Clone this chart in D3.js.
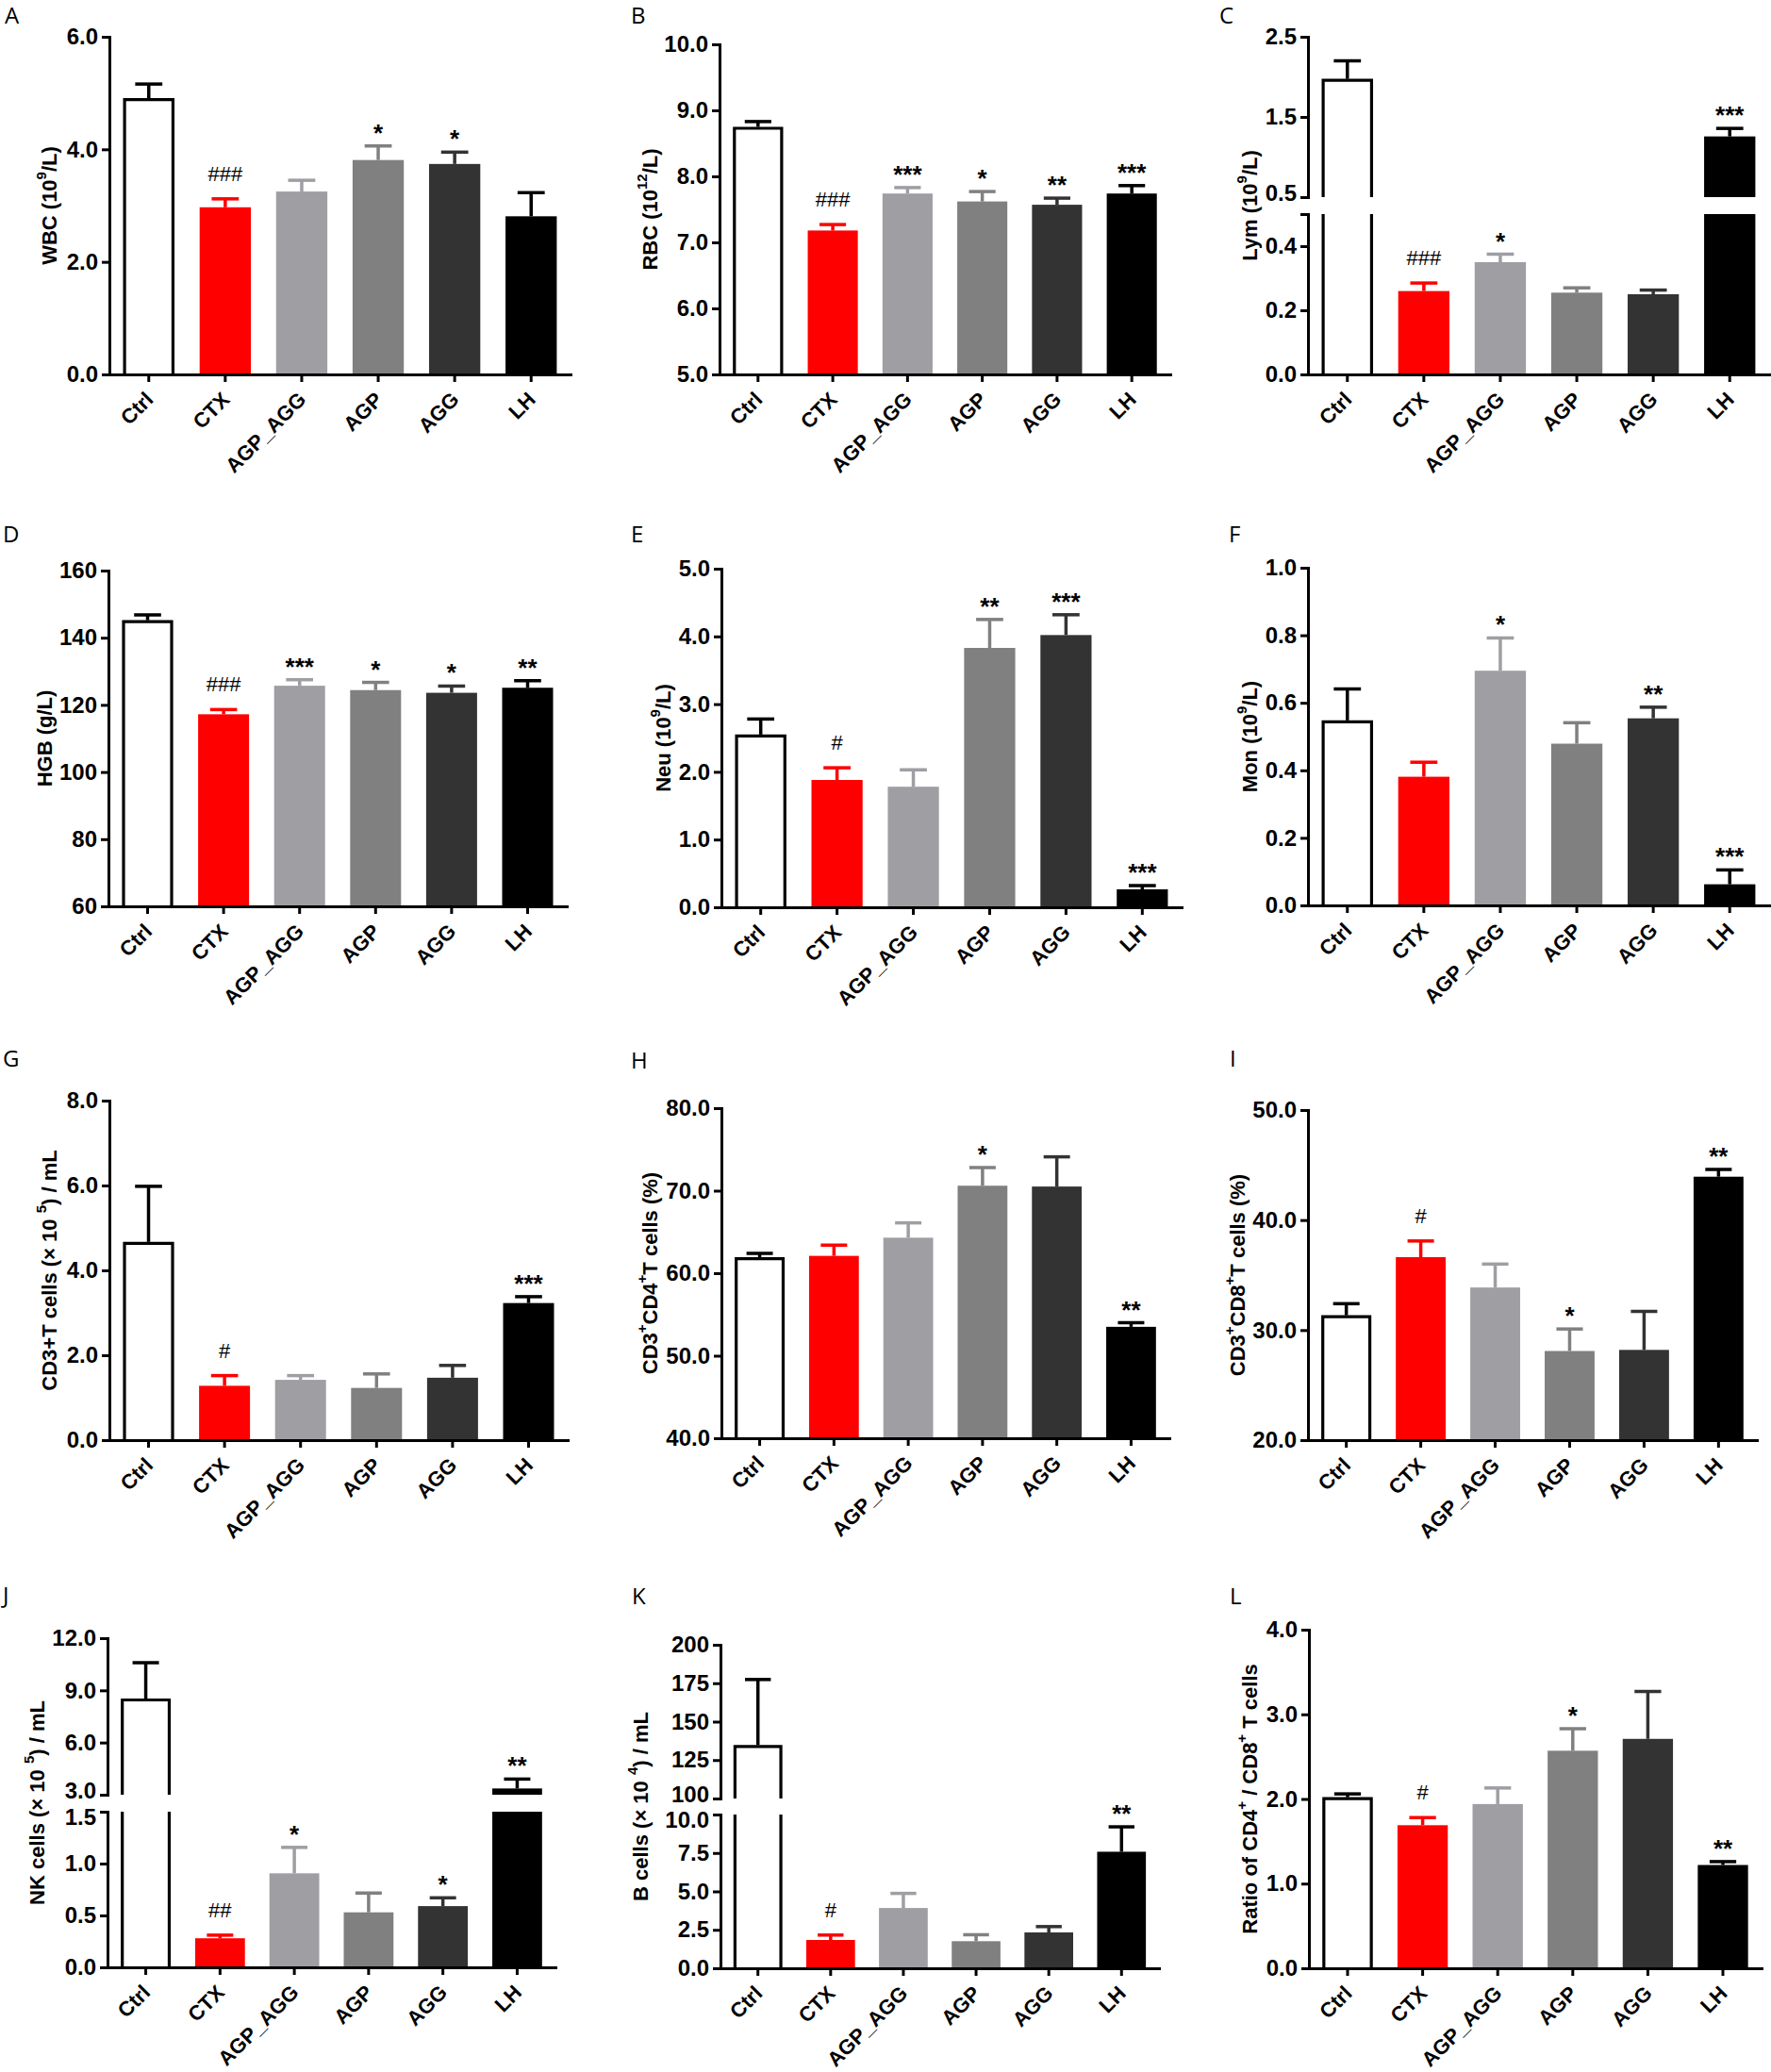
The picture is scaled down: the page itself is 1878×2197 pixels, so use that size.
<!DOCTYPE html>
<html><head><meta charset="utf-8">
<script src="https://cdn.jsdelivr.net/npm/d3@7/dist/d3.min.js"></script>
<style>body{margin:0;background:#fff}svg{display:block}</style>
</head><body>
<svg id="fig" width="1878" height="2197"></svg>
<script>
// ---------------- DATA ----------------
const categories = ["Ctrl", "CTX", "AGP_AGG", "AGP", "AGG", "LH"];
const barColors = ["#ffffff", "#ff0000", "#9e9ea3", "#808080", "#333333", "#000000"];

// A  WBC
const wbcMean = [4.91, 2.97, 3.25, 3.81, 3.74, 2.81];
const wbcSem  = [0.25, 0.15, 0.20, 0.25, 0.21, 0.42];
const wbcSig  = ["", "###", "", "*", "*", ""];
const wbcTicks = [0, 2, 4, 6];
// B  RBC
const rbcMean = [8.75, 7.18, 7.74, 7.62, 7.57, 7.74];
const rbcSem  = [0.08, 0.09, 0.09, 0.15, 0.10, 0.12];
const rbcSig  = ["", "###", "***", "*", "**", "***"];
const rbcTicks = [5, 6, 7, 8, 9, 10];
// C  Lym (broken axis)
const lymMean = [1.975, 0.26, 0.35, 0.255, 0.25, 1.257];
const lymSem  = [0.225, 0.025, 0.025, 0.015, 0.013, 0.10];
const lymSig  = ["", "###", "*", "", "", "***"];
const lymTicksLow = [0, 0.2, 0.4];
const lymTicksHigh = [0.5, 1.5, 2.5];
// D  HGB
const hgbMean = [145.2, 117.2, 125.7, 124.4, 123.6, 125.1];
const hgbSem  = [1.6, 1.4, 1.8, 2.3, 2.0, 2.1];
const hgbSig  = ["", "###", "***", "*", "*", "**"];
const hgbTicks = [60, 80, 100, 120, 140, 160];
// E  Neu
const neuMean = [2.55, 1.88, 1.78, 3.83, 4.02, 0.265];
const neuSem  = [0.23, 0.18, 0.25, 0.42, 0.30, 0.055];
const neuSig  = ["", "#", "", "**", "***", "***"];
const neuTicks = [0, 1, 2, 3, 4, 5];
// F  Mon
const monMean = [0.548, 0.381, 0.695, 0.479, 0.554, 0.0625];
const monSem  = [0.093, 0.043, 0.097, 0.062, 0.033, 0.0425];
const monSig  = ["", "", "*", "", "**", "***"];
const monTicks = [0, 0.2, 0.4, 0.6, 0.8, 1.0];
// G  CD3+ T cells
const cd3Mean = [4.67, 1.28, 1.42, 1.23, 1.47, 3.23];
const cd3Sem  = [1.31, 0.24, 0.10, 0.33, 0.29, 0.15];
const cd3Sig  = ["", "#", "", "", "", "***"];
const cd3Ticks = [0, 2, 4, 6, 8];
// H  CD3+CD4+ %
const cd4Mean = [61.94, 62.1, 64.3, 70.6, 70.5, 53.5];
const cd4Sem  = [0.46, 1.3, 1.8, 2.2, 3.6, 0.5];
const cd4Sig  = ["", "", "", "*", "", "**"];
const cd4Ticks = [40, 50, 60, 70, 80];
// I  CD3+CD8+ %
const cd8Mean = [31.35, 36.63, 33.87, 28.1, 28.2, 43.94];
const cd8Sem  = [1.05, 1.47, 2.13, 2.0, 3.5, 0.66];
const cd8Sig  = ["", "#", "", "*", "", "**"];
const cd8Ticks = [20, 30, 40, 50];
// J  NK cells (broken axis)
const nkMean = [8.53, 0.28, 0.906, 0.53, 0.59, 3.36];
const nkSem  = [2.06, 0.03, 0.25, 0.186, 0.08, 0.54];
const nkSig  = ["", "##", "*", "", "*", "**"];
const nkTicksLow = [0, 0.5, 1.0, 1.5];
const nkTicksHigh = [3, 6, 9, 12];
// K  B cells (broken axis)
const bMean = [134.8, 1.84, 3.92, 1.76, 2.33, 7.58];
const bSem  = [42.6, 0.32, 0.95, 0.42, 0.38, 1.62];
const bSig  = ["", "#", "", "", "", "**"];
const bTicksLow = [0, 2.5, 5.0, 7.5, 10.0];
const bTicksHigh = [100, 125, 150, 175, 200];
// L  CD4/CD8 ratio
const ratioMean = [2.02, 1.69, 1.94, 2.57, 2.71, 1.22];
const ratioSem  = [0.04, 0.09, 0.19, 0.26, 0.56, 0.04];
const ratioSig  = ["", "#", "", "*", "", "**"];
const ratioTicks = [0, 1, 2, 3, 4];

// ---------------- PANEL DEFINITIONS ----------------
const panels = [
  {id:"A", mean:wbcMean, sem:wbcSem, sig:wbcSig, title:"WBC (10^{9}/L)", domain:[0,6], ticks:wbcTicks, fmt:".1f"},
  {id:"B", mean:rbcMean, sem:rbcSem, sig:rbcSig, title:"RBC (10^{12}/L)", domain:[5,10], ticks:rbcTicks, fmt:".1f"},
  {id:"C", mean:lymMean, sem:lymSem, sig:lymSig, title:"Lym (10^{9}/L)", domainLow:[0,0.5], domainHigh:[0.5,2.5], ticksLow:lymTicksLow, ticksHigh:lymTicksHigh, fmtLow:".1f", fmtHigh:".1f"},
  {id:"D", mean:hgbMean, sem:hgbSem, sig:hgbSig, title:"HGB (g/L)", domain:[60,160], ticks:hgbTicks, fmt:"d"},
  {id:"E", mean:neuMean, sem:neuSem, sig:neuSig, title:"Neu (10^{9}/L)", domain:[0,5], ticks:neuTicks, fmt:".1f"},
  {id:"F", mean:monMean, sem:monSem, sig:monSig, title:"Mon (10^{9}/L)", domain:[0,1], ticks:monTicks, fmt:".1f"},
  {id:"G", mean:cd3Mean, sem:cd3Sem, sig:cd3Sig, title:"CD3+T cells (× 10 ^{5}) / mL", domain:[0,8], ticks:cd3Ticks, fmt:".1f"},
  {id:"H", mean:cd4Mean, sem:cd4Sem, sig:cd4Sig, title:"CD3^{+}CD4^{+}T cells (%)", domain:[40,80], ticks:cd4Ticks, fmt:".1f"},
  {id:"I", mean:cd8Mean, sem:cd8Sem, sig:cd8Sig, title:"CD3^{+}CD8^{+}T cells (%)", domain:[20,50], ticks:cd8Ticks, fmt:".1f"},
  {id:"J", mean:nkMean, sem:nkSem, sig:nkSig, title:"NK cells (× 10 ^{5}) / mL", domainLow:[0,1.5], domainHigh:[3,12], ticksLow:nkTicksLow, ticksHigh:nkTicksHigh, fmtLow:".1f", fmtHigh:".1f"},
  {id:"K", mean:bMean, sem:bSem, sig:bSig, title:"B cells (× 10 ^{4}) / mL", domainLow:[0,10], domainHigh:[100,200], ticksLow:bTicksLow, ticksHigh:bTicksHigh, fmtLow:".1f", fmtHigh:"d"},
  {id:"L", mean:ratioMean, sem:ratioSem, sig:ratioSig, title:"Ratio of CD4^{+} / CD8^{+} T cells", domain:[0,4], ticks:ratioTicks, fmt:".1f"}
];

// ---------------- LAYOUT (pixels) ----------------
const layout = {
  A:{x0:116, x1:605, yTop:39,   yBot:397,  titleX:52,   lx:5,    ly:25},
  B:{x0:763, x1:1241,yTop:47,   yBot:397,  titleX:689,  lx:669,  ly:25},
  C:{x0:1387,x1:1876,yTop:39,   yBot:397,  titleX:1325, lx:1293, ly:25, highBot:209, lowTop:227},
  D:{x0:115, x1:601, yTop:605,  yBot:961,  titleX:47,   lx:3,    ly:575},
  E:{x0:765, x1:1253,yTop:603,  yBot:962,  titleX:703,  lx:669,  ly:575},
  F:{x0:1387,x1:1876,yTop:602,  yBot:960,  titleX:1325, lx:1303, ly:575},
  G:{x0:116, x1:602, yTop:1167, yBot:1527, titleX:52,   lx:3,    ly:1131},
  H:{x0:765, x1:1240,yTop:1175, yBot:1525, titleX:689,  lx:669,  ly:1133},
  I:{x0:1387,x1:1863,yTop:1177, yBot:1527, titleX:1312, lx:1304, ly:1131},
  J:{x0:114, x1:589, yTop:1737, yBot:2086, titleX:39,   lx:3,    ly:1700, highBot:1903, lowTop:1921},
  K:{x0:764, x1:1229,yTop:1744, yBot:2087, titleX:679,  lx:670,  ly:1701, highBot:1907, lowTop:1924},
  L:{x0:1388,x1:1868,yTop:1728, yBot:2087, titleX:1325, lx:1304, ly:1701}
};

const FONT = "'Liberation Sans', Arial, Helvetica, sans-serif";
const svg = d3.select("#fig");
svg.append("rect").attr("width",1878).attr("height",2197).attr("fill","#fff");

function addRichText(sel, str, baseSize) {
  const parts = str.split(/\^\{([^}]*)\}/);
  parts.forEach((t, i) => {
    if (t === "") return;
    const ts = sel.append("tspan").text(t);
    if (i % 2 === 1) ts.attr("baseline-shift", "super").style("font-size", Math.round(baseSize*0.68) + "px");
  });
}

function styleAxis(g, size) {
  g.select(".domain").attr("stroke", "#000").attr("stroke-width", 3).attr("stroke-linecap", "square");
  g.selectAll(".tick line").attr("stroke", "#000").attr("stroke-width", 3);
  g.selectAll(".tick text").attr("fill", "#000")
    .style("font-family", FONT).style("font-weight", "bold").style("font-size", size + "px");
}

panels.forEach(p => {
  const L = layout[p.id];
  const g = svg.append("g").attr("class", "panel-" + p.id);
  const x = d3.scaleBand().domain(categories).range([L.x0, L.x1]).paddingInner(0.33).paddingOuter(0.18);
  const bw = x.bandwidth();
  const broken = !!p.domainLow;

  let yLow, yHigh, yOf;
  if (broken) {
    yLow = d3.scaleLinear().domain(p.domainLow).range([L.yBot, L.lowTop]);
    yHigh = d3.scaleLinear().domain(p.domainHigh).range([L.highBot, L.yTop]);
    yOf = v => v <= p.domainLow[1] ? yLow(v) : yHigh(v);
  } else {
    yLow = d3.scaleLinear().domain(p.domain).range([L.yBot, L.yTop]);
    yOf = v => yLow(v);
  }

  // bars
  categories.forEach((c, i) => {
    const v = p.mean[i];
    const left = x(c), right = x(c) + bw;
    const col = barColors[i];
    const isOpen = i === 0;
    const parts = [];
    if (broken && v > p.domainLow[1]) {
      parts.push({top: L.lowTop, bot: L.yBot, openTop: true});
      parts.push({top: yOf(v), bot: L.highBot, openBot: true});
    } else {
      parts.push({top: yOf(v), bot: L.yBot});
    }
    parts.forEach(pt => {
      if (isOpen) {
        g.append("rect").attr("x", left).attr("y", pt.top).attr("width", bw).attr("height", pt.bot - pt.top).attr("fill", "#fff");
        const l = left + 1.5, r = right - 1.5;
        let d;
        if (pt.openTop) d = `M${l},${pt.bot}V${pt.top}M${r},${pt.top}V${pt.bot}`;
        else d = `M${l},${pt.bot}V${pt.top + 1.5}H${r}V${pt.bot}`;
        g.append("path").attr("d", d).attr("fill", "none").attr("stroke", "#000").attr("stroke-width", 3.2);
      } else {
        g.append("rect").attr("x", left).attr("y", pt.top).attr("width", bw).attr("height", pt.bot - pt.top).attr("fill", col);
      }
    });
    // error bar (upper only)
    const cx = x(c) + bw / 2;
    const ecol = isOpen ? "#000" : col;
    const yv = yOf(v), ye = yOf(v + p.sem[i]);
    const capW = bw * 0.53;
    g.append("line").attr("x1", cx).attr("x2", cx).attr("y1", yv).attr("y2", ye).attr("stroke", ecol).attr("stroke-width", 3.5);
    g.append("line").attr("x1", cx - capW / 2).attr("x2", cx + capW / 2).attr("y1", ye).attr("y2", ye).attr("stroke", ecol).attr("stroke-width", 3.5);
    // significance mark
    const s = p.sig[i];
    if (s) {
      const isHash = s[0] === "#";
      g.append("text").attr("x", cx).attr("y", ye - (isHash ? 19 : 5))
        .attr("text-anchor", "middle")
        .style("font-family", FONT)
        .style("font-weight", isHash ? "normal" : "bold")
        .style("font-size", isHash ? "22px" : "26px")
        .attr("fill", "#000").text(s);
    }
  });

  // y axis
  if (broken) {
    const lowTicks = p.ticksLow.slice();
    if (!lowTicks.some(t => Math.abs(t - p.domainLow[1]) < 1e-9)) lowTicks.push(p.domainLow[1]);
    const fL = d3.format(p.fmtLow), fH = d3.format(p.fmtHigh);
    const gl = g.append("g").attr("transform", `translate(${L.x0},0)`)
      .call(d3.axisLeft(yLow).tickValues(lowTicks).tickSize(8).tickPadding(4).tickSizeOuter(0)
        .tickFormat(v => p.ticksLow.some(t => Math.abs(t - v) < 1e-9) ? fL(v) : ""));
    styleAxis(gl, 24);
    // nudge the label at the top of the lower segment slightly down so it clears the upper one
    gl.selectAll(".tick text").filter(v => Math.abs(v - p.domainLow[1]) < 1e-9).attr("dy", "0.55em");
    const gh = g.append("g").attr("transform", `translate(${L.x0},0)`)
      .call(d3.axisLeft(yHigh).tickValues(p.ticksHigh).tickSize(8).tickPadding(4).tickSizeOuter(0).tickFormat(fH));
    styleAxis(gh, 24);
    gh.selectAll(".tick text").filter(v => Math.abs(v - p.domainHigh[0]) < 1e-9).attr("dy", "0.15em");
  } else {
    const gy = g.append("g").attr("transform", `translate(${L.x0},0)`)
      .call(d3.axisLeft(yLow).tickValues(p.ticks).tickSize(8).tickPadding(4).tickSizeOuter(0).tickFormat(d3.format(p.fmt)));
    styleAxis(gy, 24);
  }

  // x axis
  const gx = g.append("g").attr("transform", `translate(0,${L.yBot})`)
    .call(d3.axisBottom(x).tickSize(8).tickSizeOuter(0));
  styleAxis(gx, 22);
  gx.selectAll(".tick text")
    .attr("x", 6).attr("y", 28).attr("dy", null)
    .attr("text-anchor", "end")
    .attr("transform", "rotate(-45 6 28)");

  // y title
  const yc = (L.yTop + L.yBot) / 2;
  const tt = g.append("text")
    .attr("transform", `translate(${L.titleX},${yc}) rotate(-90)`)
    .attr("text-anchor", "middle").attr("dominant-baseline", "central")
    .style("font-family", FONT).style("font-weight", "bold").style("font-size", "22px").attr("fill", "#000");
  addRichText(tt, p.title, 22);

  // panel letter
  g.append("text").attr("x", L.lx).attr("y", L.ly)
    .style("font-family", "'Open Sans', 'Noto Sans', sans-serif").style("font-size", "24px")
    .attr("fill", "#000").text(p.id);
});
</script>
</body></html>
